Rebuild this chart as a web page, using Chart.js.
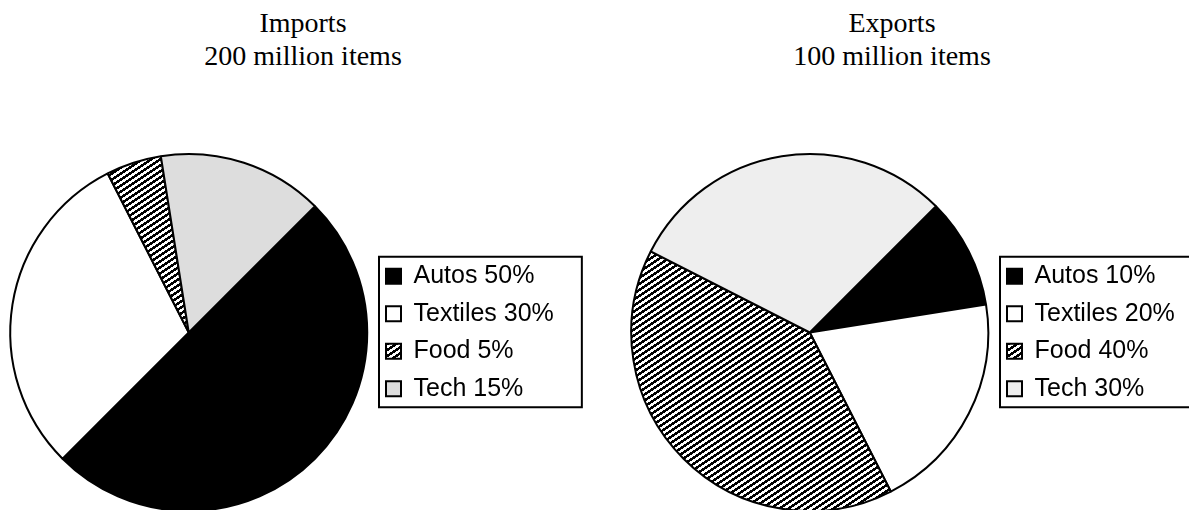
<!DOCTYPE html>
<html>
<head>
<meta charset="utf-8">
<script src="https://cdn.jsdelivr.net/npm/chart.js@4.4.1/dist/chart.umd.min.js"></script>
<style>
  body { margin: 0; background: #fff; }
  #page { position: relative; width: 1189px; height: 510px; overflow: hidden; background: #fff; }
  .ttl { position: absolute; top: 6px; text-align: center; font: 28px "Liberation Serif", serif; line-height: 33px; color: #000; }
  canvas { position: absolute; top: 0; }
</style>
</head>
<body>
<div id="page">
  <div class="ttl" id="t1" style="left:0;width:606px"></div>
  <div class="ttl" id="t2" style="left:592px;width:600px"></div>
  <canvas id="chartImp" width="600" height="510" style="left:0"></canvas>
  <canvas id="chartExp" width="600" height="510" style="left:621px"></canvas>
</div>
<script>
// dados
const categories = ['Autos', 'Textiles', 'Food', 'Tech']
const importShares = [50, 30, 5, 15]
const exportShares = [10, 20, 40, 30]
const importTitle = ['Imports', '200 million items']
const exportTitle = ['Exports', '100 million items']

document.getElementById('t1').innerHTML = importTitle.join('<br>')
document.getElementById('t2').innerHTML = exportTitle.join('<br>')

const legendFont = 25
const legendPad = 12.5
const boxSize = 15

// hachura diagonal para "Food" (pixels nitidos)
function hatch() {
  const c = document.createElement('canvas')
  c.width = 9
  c.height = 6
  const g = c.getContext('2d')
  g.fillStyle = '#fff'
  g.fillRect(0, 0, 9, 6)
  g.fillStyle = '#000'
  for (let x = 0; x < 9; x++) {
    for (let y = 0; y < 6; y++) {
      if ((6 * x + 9 * y) % 54 < 27) g.fillRect(x, y, 1, 1)
    }
  }
  return g.createPattern(c, 'repeat')
}

function labelsFor(shares) {
  return categories.map((c, i) => c + ' ' + shares[i] + '%')
}

// largura da legenda para posicionar a area do grafico
function legendWidth(labels) {
  const m = document.createElement('canvas').getContext('2d')
  m.font = legendFont + 'px "Liberation Sans"'
  let w = 0
  labels.forEach(t => { w = Math.max(w, m.measureText(t).width) })
  return { text: w, total: legendPad + boxSize + legendFont / 2 + w + 10 }
}

// moldura em volta da legenda
const legendFrame = {
  id: 'legendFrame',
  afterDraw(chart) {
    const hb = chart.legend.legendHitBoxes
    if (!hb || !hb.length) return
    let maxW = 0
    hb.forEach(h => { maxW = Math.max(maxW, h.width) })
    const x0 = hb[0].left - 7
    const x1 = hb[0].left + maxW + 28
    const y0 = hb[0].top - 7
    const y1 = hb[hb.length - 1].top + legendFont + 6
    const ctx = chart.ctx
    ctx.save()
    ctx.strokeStyle = '#000'
    ctx.lineWidth = 2
    ctx.strokeRect(x0, y0, x1 - x0, y1 - y0)
    ctx.restore()
  }
}

function makePie(id, shares, techColor) {
  const labels = labelsFor(shares)
  const lw = legendWidth(labels)
  const W = 600
  const ctx = document.getElementById(id)
  const config = {
    type: 'pie',
    data: {
      labels: labels,
      datasets: [{
        data: shares,
        backgroundColor: ['#000000', '#ffffff', hatch(), techColor],
        borderColor: '#000000',
        borderWidth: 2,
        radius: 178.5
      }]
    },
    options: {
      responsive: false,
      animation: false,
      rotation: 45,
      layout: {
        padding: { left: 4, top: 155, bottom: 0, right: W - 373.5 - lw.total }
      },
      plugins: {
        legend: {
          position: 'right',
          labels: {
            boxWidth: boxSize,
            boxHeight: boxSize,
            padding: legendPad,
            color: '#000',
            font: { family: 'Liberation Sans', size: legendFont }
          }
        },
        tooltip: { enabled: false },
        title: { display: false }
      }
    },
    plugins: [legendFrame]
  }
  return new Chart(ctx, config)
}

makePie('chartImp', importShares, '#dddddd')
makePie('chartExp', exportShares, '#eeeeee')
</script>
</body>
</html>
